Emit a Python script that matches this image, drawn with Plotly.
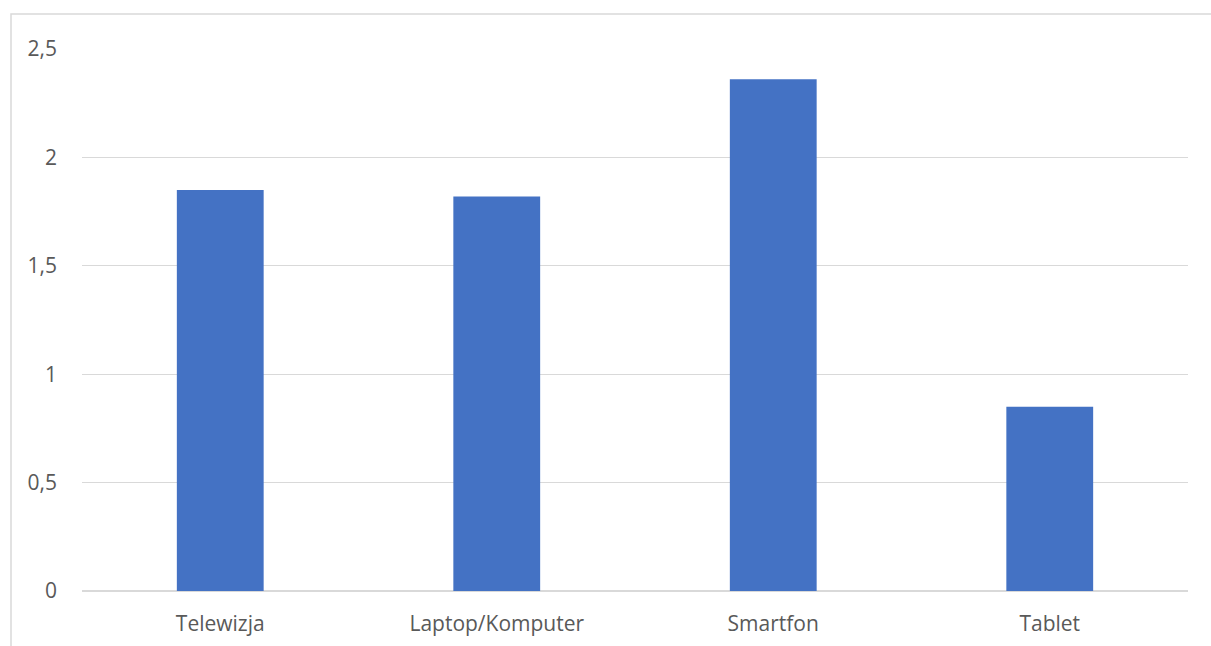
import plotly.graph_objects as go

categories = ["Telewizja", "Laptop/Komputer", "Smartfon", "Tablet"]
values = [1.85, 1.82, 2.36, 0.85]
y_tickvals = [0, 0.5, 1, 1.5, 2, 2.5]
y_ticktext = ["0", "0,5", "1", "1,5", "2", "2,5"]

W, H = 1211, 646
ML, MR, MT, MB = 82, 23, 49, 55
plot_w = W - ML - MR
plot_h = H - MT - MB

fig = go.Figure(
    go.Bar(
        x=categories,
        y=values,
        marker=dict(color="#4472c4", line=dict(width=0)),
        hoverinfo="x+y",
    )
)

# outer chart-area frame (extends past the right and bottom edges)
fig.add_shape(
    type="rect",
    xref="paper", yref="paper",
    x0=(11 - ML) / plot_w, x1=(W + 5 - ML) / plot_w,
    y0=-(MB + 5) / plot_h, y1=1 + (MT - 14) / plot_h,
    line=dict(color="#d9d9d9", width=1.5),
    fillcolor="rgba(0,0,0,0)",
    layer="below",
)

font_family = "'Open Sans', sans-serif"

fig.update_layout(
    width=W, height=H,
    margin=dict(l=ML, r=MR, t=MT, b=MB, pad=0, autoexpand=False),
    paper_bgcolor="white",
    plot_bgcolor="white",
    bargap=0.686,
    showlegend=False,
    font=dict(family=font_family, size=21, color="#595959"),
    xaxis=dict(
        automargin=False,
        showgrid=False,
        showline=False,
        zeroline=False,
        ticks="",
        tickfont=dict(size=21, color="#595959"),
        ticklabelstandoff=18,
    ),
    yaxis=dict(
        automargin=False,
        range=[0, 2.5],
        tickvals=y_tickvals,
        ticktext=y_ticktext,
        showgrid=True,
        gridcolor="#d9d9d9",
        gridwidth=1,
        zeroline=True,
        zerolinecolor="#d9d9d9",
        zerolinewidth=1.5,
        showline=False,
        ticks="",
        tickfont=dict(size=21, color="#595959"),
        ticklabelstandoff=24,
    ),
)

fig.write_html("out.html")
